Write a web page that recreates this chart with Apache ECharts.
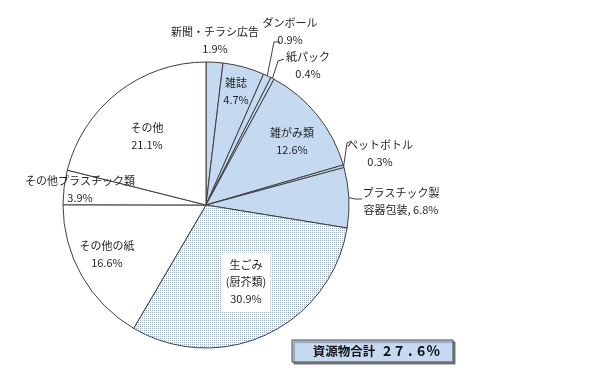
<!DOCTYPE html>
<html><head><meta charset="utf-8">
<script src="https://cdn.jsdelivr.net/npm/echarts@6/dist/echarts.min.js"></script>
<style>html,body{margin:0;padding:0;background:#fff}#c{width:600px;height:380px}</style>
</head><body><div id="c"></div>
<script>
// ---- data ----
const categories = ['新聞・チラシ広告','雑誌','ダンボール','紙パック','雑がみ類','ペットボトル','プラスチック製容器包装','生ごみ(厨芥類)','その他の紙','その他プラスチック類','その他'];
const labelNames = ['新聞・チラシ広告','雑誌','ダンボール','紙パック','雑がみ類','ペットボトル','プラスチック製\n容器包装,','生ごみ\n(厨芥類)','その他の紙','その他プラスチック類','その他'];
const values = [1.9, 4.7, 0.9, 0.4, 12.6, 0.3, 6.8, 30.9, 16.6, 3.9, 21.1];
const kinds = ['resource','resource','resource','resource','resource','resource','resource','food','other','other','other'];
const totalTitle = '資源物合計';

// ---- styling / layout ----
const FONT = "'Noto Sans CJK JP', 'Noto Sans', sans-serif";
const labelJoin = ['\n','\n','\n','\n','\n','\n',' ','\n','\n','\n','\n'];
const labelPos = [[215,40],[236,91],[290,31],[308,65],[292,141],[380,153],[401,201],[246,282],[107,254],[80,189],[147,136]];
const leaderBends = {2: [[274,42],[280,42]], 3: [[278,61],[284,59]], 5: [[347,143],[352,141]], 6: [[355,199],[362,199]]};

const pc = document.createElement('canvas');
pc.width = 2; pc.height = 2;
const pctx = pc.getContext('2d');
pctx.fillStyle = '#ffffff'; pctx.fillRect(0,0,2,2);
pctx.fillStyle = '#9dadc0'; pctx.fillRect(0,0,1,1);

function fillFor(kind){
  if (kind === 'resource') return '#c5d9f1';
  if (kind === 'food') return {image: pc, repeat: 'repeat'};
  return '#ffffff';
}

function richLines(s){
  return s.split('\n').map(line => '{c|' + line + '}').join('\n');
}

const data = categories.map((name, i) => {
  const outside = (i === 0 || leaderBends[i] !== undefined);
  const item = {
    name: name, value: values[i],
    itemStyle: {color: fillFor(kinds[i])},
    label: {position: outside ? 'outside' : 'inside', align: 'center', alignTo: 'none'},
    labelLine: {show: leaderBends[i] !== undefined}
  };
  if (kinds[i] === 'food') {
    item.label.backgroundColor = '#ffffff';
    item.label.padding = [4, 4];
  }
  return item;
});

let total = 0;
values.forEach((v, i) => { if (kinds[i] === 'resource') total += v; });
const totalStr = total.toFixed(1) + '%';
const totalText = '{t|' + totalTitle + '}{s| }' + totalStr.split('').map(ch => ch === '.' ? '{p|.}' : '{n|' + ch + '}').join('');

const chart = echarts.init(document.getElementById('c'), null, {renderer: 'canvas'});
chart.setOption({
  animation: false,
  backgroundColor: '#ffffff',
  textStyle: {fontFamily: FONT},
  series: [{
    type: 'pie',
    center: [206, 205],
    radius: 143,
    startAngle: 90,
    clockwise: true,
    avoidLabelOverlap: false,
    silent: true,
    emphasis: {disabled: true, scale: false},
    itemStyle: {borderColor: '#3f3f3f', borderWidth: 1},
    label: {
      color: '#262626', fontSize: 11, lineHeight: 17, fontFamily: FONT, align: 'center', overflow: 'none',
      formatter: p => richLines(labelNames[p.dataIndex] + labelJoin[p.dataIndex] + values[p.dataIndex].toFixed(1) + '%'),
      rich: {c: {align: 'center', color: '#262626', fontSize: 11, lineHeight: 17, fontFamily: FONT}}
    },
    labelLine: {lineStyle: {color: '#3f3f3f', width: 1}, length: 10, length2: 5},
    labelLayout: function (params) {
      const i = params.dataIndex;
      const res = {x: labelPos[i][0], y: labelPos[i][1], align: 'center', verticalAlign: 'middle'};
      if (kinds[i] !== 'food') res.width = 140;
      if (leaderBends[i] && params.labelLinePoints) {
        res.labelLinePoints = [params.labelLinePoints[0]].concat(leaderBends[i]);
      }
      return res;
    },
    data: data
  }],
  graphic: [
    {type: 'rect', shape: {x: 292, y: 340, width: 161, height: 22},
     style: {fill: '#c6d9f1', stroke: '#4a4a4a', lineWidth: 1,
             shadowColor: 'rgba(0,0,0,0.45)', shadowOffsetX: 2, shadowOffsetY: 2, shadowBlur: 1}},
    {type: 'text', x: 376, y: 351,
     style: {text: totalText, fontFamily: FONT, fill: '#111', align: 'center', verticalAlign: 'middle',
             rich: {
               t: {fontSize: 12.5, fontWeight: 'bold', fontFamily: FONT, fill: '#111'},
               s: {fontSize: 12.5, width: 6},
               n: {fontSize: 14, fontWeight: 'bold', fontFamily: FONT, fill: '#111', width: 12, align: 'center'},
               p: {fontSize: 14, fontWeight: 'bold', fontFamily: FONT, fill: '#111', width: 10, align: 'left'}
             }}}
  ]
});
</script>
</body></html>
